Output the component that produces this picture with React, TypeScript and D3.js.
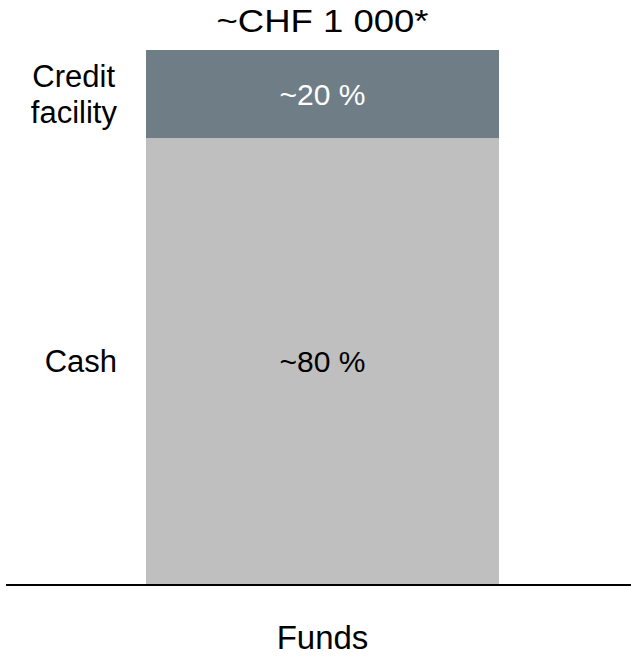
import React, { useEffect, useRef } from "react";
import * as d3 from "d3";

// Data
const categories = ["Funds"];
const segmentNames = ["Cash", "Credit facility"];
const segmentValues = [835, 165]; // ~CHF 1 000 total
const segmentLabels = ["~80 %", "~20 %"];
const totalLabel = "~CHF 1 000*";

const colors = ["#bfbfbf", "#6f7e86"];
const textColors = ["#000000", "#ffffff"];

const W = 631;
const H = 657;

const App = () => {
  const svgRef = useRef<SVGSVGElement>(null);

  useEffect(() => {
    const svg = d3.select(svgRef.current);
    svg.selectAll("*").remove();

    const margin = { top: 50, right: 132, bottom: 73, left: 146 };
    const font = "'Liberation Sans', Arial, sans-serif";

    const x = d3
      .scaleBand()
      .domain(categories)
      .range([margin.left, W - margin.right])
      .padding(0);

    const total = d3.sum(segmentValues);
    const y = d3
      .scaleLinear()
      .domain([0, total])
      .range([H - margin.bottom, margin.top]);

    // stack segments bottom-up
    const row: any = { category: categories[0] };
    segmentNames.forEach((n, i) => (row[n] = segmentValues[i]));
    const series = d3.stack().keys(segmentNames)([row]);

    const g = svg.append("g");

    series.forEach((s, i) => {
      const d = s[0];
      g.append("rect")
        .attr("x", x(categories[0])!)
        .attr("y", y(d[1]))
        .attr("width", x.bandwidth())
        .attr("height", y(d[0]) - y(d[1]))
        .attr("fill", colors[i]);

      const mid = (y(d[0]) + y(d[1])) / 2;

      // value label inside the bar
      g.append("text")
        .attr("x", x(categories[0])! + x.bandwidth() / 2)
        .attr("y", mid + 11)
        .attr("text-anchor", "middle")
        .attr("font-family", font)
        .attr("font-size", 30)
        .attr("fill", textColors[i])
        .text(segmentLabels[i]);

      // segment name to the left
      const lines = segmentNames[i] === "Credit facility" ? ["Credit", "facility"] : [segmentNames[i]];
      const t = g
        .append("text")
        .attr("x", x(categories[0])! - 29)
        .attr("y", mid + 11 - ((lines.length - 1) * 36) / 2)
        .attr("text-anchor", "end")
        .attr("font-family", font)
        .attr("font-size", 31)
        .attr("fill", "#000");
      lines.forEach((l, k) => {
        t.append("tspan")
          .attr("x", x(categories[0])! - 29 - (lines.length > 1 && k === 0 ? 2 : 0))
          .attr("dy", k === 0 ? 0 : 36)
          .text(l);
      });
    });

    // total label above
    g.append("text")
      .attr("x", x(categories[0])! + x.bandwidth() / 2)
      .attr("y", margin.top - 18)
      .attr("text-anchor", "middle")
      .attr("font-family", font)
      .attr("font-size", 31)
      .attr("textLength", 212)
      .attr("lengthAdjust", "spacingAndGlyphs")
      .attr("fill", "#000")
      .text(totalLabel);

    // baseline
    g.append("line")
      .attr("x1", 6)
      .attr("x2", W)
      .attr("y1", y(0) + 1)
      .attr("y2", y(0) + 1)
      .attr("stroke", "#000")
      .attr("stroke-width", 2);

    // category label
    g.append("text")
      .attr("x", x(categories[0])! + x.bandwidth() / 2)
      .attr("y", H - 8)
      .attr("text-anchor", "middle")
      .attr("font-family", font)
      .attr("font-size", 33)
      .attr("fill", "#000")
      .text(categories[0]);
  }, []);

  return (
    <div style={{ position: "absolute", left: 0, top: 0 }}>
      <svg ref={svgRef} width={W} height={H} style={{ display: "block" }}></svg>
    </div>
  );
};

export default App;
